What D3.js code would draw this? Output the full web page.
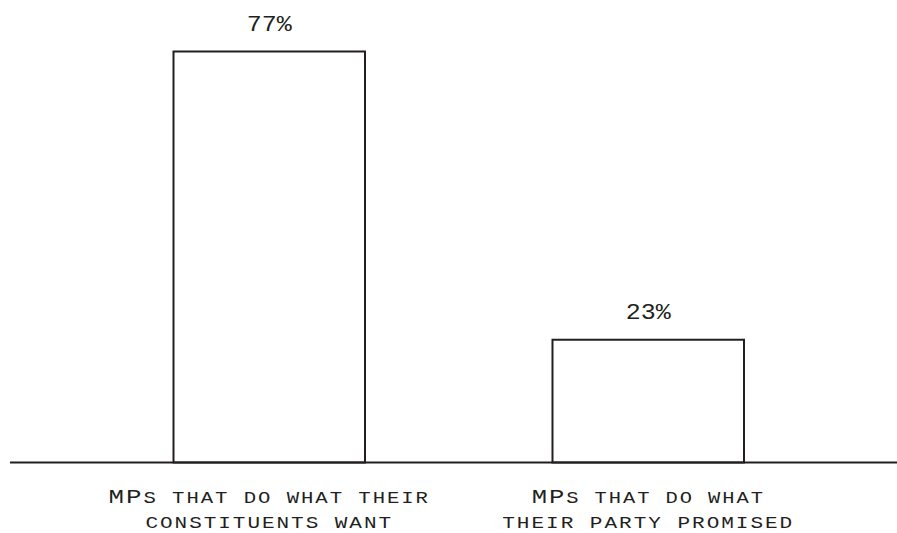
<!DOCTYPE html>
<html>
<head>
<meta charset="utf-8">
<script src="https://cdn.jsdelivr.net/npm/d3@7"></script>
<style>
  html, body { margin: 0; padding: 0; background: #fff; }
  svg { display: block; }
</style>
</head>
<body>
<svg id="chart" width="897" height="533"></svg>
<script>
// Data
const categories = ["constituents", "party"];
const labelLines = [
  ["MPs that do what their", "constituents want"],
  ["MPs that do what", "their party promised"]
];
const values = [77, 23];
const valueLabels = ["77%", "23%"];

const W = 897, H = 533;
const ink = "#231f20";
const font = "'Liberation Mono', 'DejaVu Sans Mono', monospace";
const svg = d3.select("#chart");

const baseY = 462.5;
const x = d3.scaleBand()
  .domain(categories)
  .range([10, 907.5])
  .paddingInner(0.4947)
  .paddingOuter(0.4314);

const y = d3.scaleLinear()
  .domain([0, 77])
  .range([baseY, 51.5]);

const g = svg.append("g");

// bars
g.selectAll("rect.bar")
  .data(categories)
  .join("rect")
  .attr("class", "bar")
  .attr("x", d => x(d))
  .attr("width", x.bandwidth())
  .attr("y", (d, i) => y(values[i]))
  .attr("height", (d, i) => baseY - y(values[i]))
  .attr("fill", "#fff")
  .attr("stroke", ink)
  .attr("stroke-width", 2);

// baseline
g.append("line")
  .attr("x1", 10).attr("x2", W)
  .attr("y1", baseY).attr("y2", baseY)
  .attr("stroke", ink)
  .attr("stroke-width", 2);

// helper: stretch text horizontally to a target width around its centre
function stretched(parent, cx, cy, target, build) {
  const wrap = parent.append("g");
  const t = wrap.append("text")
    .attr("x", 0).attr("y", 0)
    .attr("text-anchor", "middle")
    .attr("font-family", font)
    .attr("fill", ink);
  build(t);
  const natural = t.node().getComputedTextLength();
  wrap.attr("transform", `translate(${cx},${cy}) scale(${target / natural},1)`);
  return wrap;
}

// value labels
categories.forEach((c, i) => {
  stretched(g, x(c) + x.bandwidth() / 2, y(values[i]) - 20.5, 45, t => {
    t.attr("font-size", 22).text(valueLabels[i]);
  });
});

// category labels (manual small caps via tspans)
const charW = 14.7;
function runs(s) {
  const out = [];
  for (const ch of s) {
    const up = ch !== ch.toLowerCase();
    if (out.length && out[out.length - 1].up === up) out[out.length - 1].t += ch;
    else out.push({ up, t: ch });
  }
  return out;
}
categories.forEach((c, i) => {
  const cx = x(c) + x.bandwidth() / 2;
  labelLines[i].forEach((line, j) => {
    stretched(g, cx, 503 + j * 25, line.length * charW - 2, t => {
      t.style("letter-spacing", "1.5px");
      runs(line).forEach(r => {
        t.append("tspan")
          .attr("font-size", r.up ? 20 : 16)
          .style("text-transform", "uppercase")
          .text(r.t);
      });
    });
  });
});
</script>
</body>
</html>
